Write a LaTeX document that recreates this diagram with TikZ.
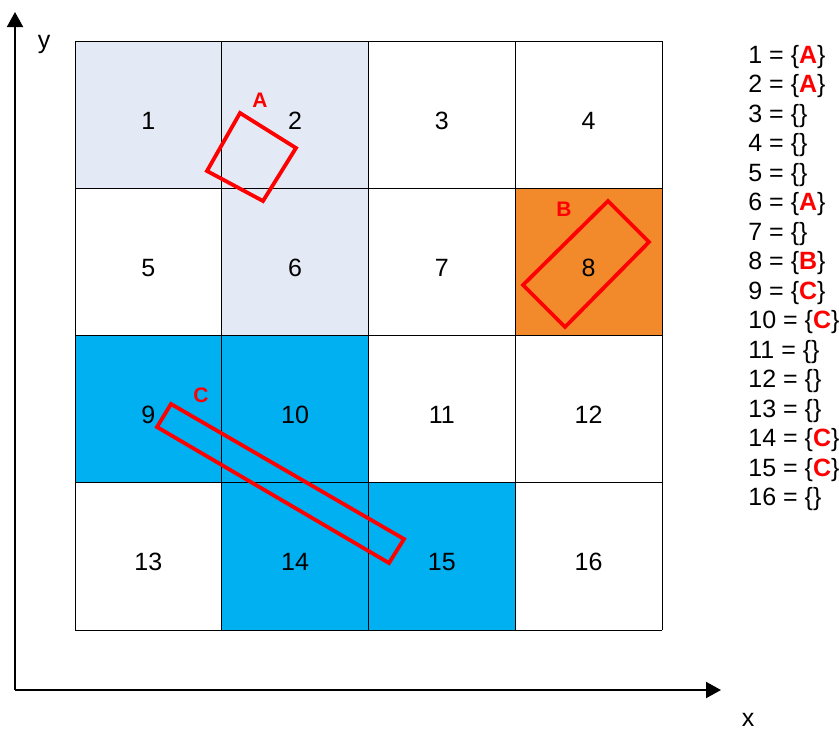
\documentclass[tikz,border=0pt]{standalone}
\usepackage{fontspec}
\setmainfont{Liberation Sans}
\usetikzlibrary{arrows.meta}
\definecolor{lightcell}{HTML}{E3EAF5}
\definecolor{orangecell}{HTML}{F28A2B}
\definecolor{cyancell}{HTML}{00B0F0}
\definecolor{mred}{HTML}{FF0000}
\begin{document}
\begin{tikzpicture}[x=0.5pt,y=-0.5pt,
  gridline/.style={draw=black, line width=0.5pt},
  num/.style={anchor=base, inner sep=0pt, font=\fontsize{12.5}{15}\selectfont},
  legend/.style={anchor=base west, inner sep=0pt, font=\fontsize{12.5}{15}\selectfont},
  objbox/.style={draw=mred, line width=1.9pt, line join=miter},
  objlabel/.style={text=mred, inner sep=0pt, font=\fontsize{10.5}{12}\selectfont\bfseries},
  axis/.style={draw=black, line width=1pt, -{Triangle[length=7.5pt,width=8pt]}},
  axislabel/.style={anchor=base, inner sep=0pt, font=\fontsize{12.5}{15}\selectfont}]
\useasboundingbox (0,0) rectangle (839,729);
% cell fills
\foreach \i/\col in {1/lightcell,2/lightcell,6/lightcell,8/orangecell,9/cyancell,10/cyancell,14/cyancell,15/cyancell}{
  \pgfmathtruncatemacro\cc{mod(\i-1,4)}
  \pgfmathtruncatemacro\rr{div(\i-1,4)}
  \fill[\col] ({75+146.75*\cc},{41+147.25*\rr}) rectangle ({75+146.75*(\cc+1)},{41+147.25*(\rr+1)});
}
% grid lines
\foreach \k in {0,...,4}{
  \draw[gridline] ({75+146.75*\k},41) -- ({75+146.75*\k},630);
  \draw[gridline] (75,{41+147.25*\k}) -- (662,{41+147.25*\k});
}
% cell numbers
\foreach \i in {1,...,16}{
  \pgfmathtruncatemacro\cc{mod(\i-1,4)}
  \pgfmathtruncatemacro\rr{div(\i-1,4)}
  \node[num] (n\i) at ({75+146.75*(\cc+0.5)},{41+147.25*(\rr+0.5)+14.5}) {\i};
}
% objects
\draw[objbox] (240,113) -- (296,148) -- (263,201) -- (207,171) -- cycle;
\draw[objbox] (608,201) -- (649,242) -- (565,327) -- (523,285) -- cycle;
\draw[objbox] (171,404) -- (404,539) -- (389,563) -- (157,427) -- cycle;
\node[objlabel] (la) at (260,100) {A};
\node[objlabel] (lb) at (564,209) {B};
\node[objlabel] (lc) at (201,395) {C};
% axes
\coordinate (o) at (15,690);
\coordinate (ytip) at (15,12);
\coordinate (xtip) at (721,690);
\draw[axis] (o) -- (ytip);
\draw[axis] (o) -- (xtip);
\node[axislabel] (ylab) at (44,48) {y};
\node[axislabel] (xlab) at (748,726) {x};
% legend
\foreach \i/\s in {1/{\textcolor{mred}{\textbf{A}}},2/{\textcolor{mred}{\textbf{A}}},3/{},4/{},5/{},6/{\textcolor{mred}{\textbf{A}}},7/{},8/{\textcolor{mred}{\textbf{B}}},9/{\textcolor{mred}{\textbf{C}}},10/{\textcolor{mred}{\textbf{C}}},11/{},12/{},13/{},14/{\textcolor{mred}{\textbf{C}}},15/{\textcolor{mred}{\textbf{C}}},16/{}}{
  \node[legend] (g\i) at (748,{63+29.5*(\i-1)}) {\i{} = \{\s\}};
}
\end{tikzpicture}
\end{document}
